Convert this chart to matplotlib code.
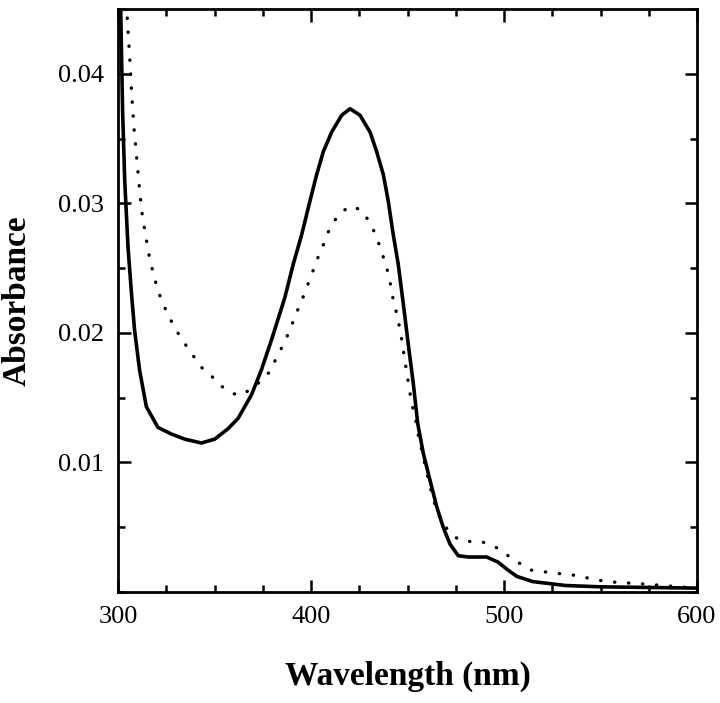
import matplotlib
matplotlib.use("Agg")
import matplotlib.pyplot as plt
from matplotlib.ticker import MultipleLocator

plt.rcParams['font.family'] = ['Liberation Serif', 'DejaVu Serif']

# Solid curve
wl_solid = [301.2, 302.4, 303.5, 305.2, 306.9, 308.6, 311.2, 314.7, 320.7, 327.6,
            334.6, 343.2, 350.1, 357.0, 362.2, 369.1, 374.2, 379.4, 386.4, 390.8,
            395.2, 399.5, 402.9, 406.4, 410.7, 415.9, 420.2, 425.4, 430.6, 434.0,
            437.5, 440.0, 442.6, 445.2, 447.0, 448.7, 450.4, 453.0, 455.3, 458.2,
            461.7, 465.1, 468.5, 472.0, 476.3, 481.5, 491.0, 497.0, 502.0, 506.7,
            515.0, 532.0, 550.0, 575.0, 600.0]
abs_solid = [0.0465, 0.037, 0.0317, 0.0266, 0.0232, 0.0202, 0.0171, 0.0143, 0.0127,
             0.0122, 0.0118, 0.0115, 0.0118, 0.0126, 0.0134, 0.0152, 0.0171, 0.0194,
             0.0227, 0.0253, 0.0276, 0.0302, 0.0322, 0.034, 0.0355, 0.0368, 0.0373,
             0.0368, 0.0355, 0.034, 0.0322, 0.0302, 0.0276, 0.0253, 0.0232, 0.0212,
             0.0191, 0.0161, 0.013, 0.0107, 0.0086, 0.0066, 0.005, 0.0037, 0.0028,
             0.0027, 0.0027, 0.0023, 0.0017, 0.0012, 0.0008, 0.0005, 0.0004,
             0.00035, 0.0003]

# Dotted curve
wl_dot = [304.8, 306.2, 307.1, 308.3, 309.7, 311.2, 312.4, 314.1, 316.1, 318.7,
          320.4, 322.1, 324.7, 327.3, 330.2, 334.0, 337.7, 341.5, 344.6, 348.3,
          351.8, 355.3, 360.1, 364.2, 369.9, 374.2, 378.6, 381.2, 384.3, 386.9,
          389.3, 391.5, 396.0, 400.3, 404.3, 406.7, 409.0, 412.4, 416.2, 421.4,
          426.6, 430.1, 432.8, 435.1, 437.0, 438.5, 440.3, 442.3, 445.0, 447.0,
          448.7, 450.4, 452.2, 453.9, 455.6, 458.2, 460.8, 463.4, 467.7, 472.0,
          476.8, 482.4, 487.6, 492.7, 497.6, 503.0, 513.5, 524.0, 536.0, 553.0,
          574.0, 591.0, 600.0]
abs_dot = [0.0443, 0.0409, 0.0384, 0.0358, 0.0335, 0.031, 0.0293, 0.0277, 0.026,
           0.0243, 0.0235, 0.0227, 0.0218, 0.021, 0.0202, 0.0193, 0.0185, 0.0177,
           0.0171, 0.0167, 0.0161, 0.0157, 0.0153, 0.0152, 0.0158, 0.0163, 0.017,
           0.0178, 0.0187, 0.0195, 0.0203, 0.0212, 0.0228, 0.0245, 0.0261, 0.0269,
           0.0278, 0.0287, 0.0294, 0.0298, 0.0294, 0.0286, 0.0278, 0.0269, 0.0261,
           0.0253, 0.0245, 0.0228, 0.0211, 0.0195, 0.0178, 0.0162, 0.0145, 0.0136,
           0.0121, 0.0104, 0.0087, 0.0071, 0.0054, 0.0046, 0.004, 0.0039, 0.0039,
           0.0037, 0.0033, 0.0027, 0.0017, 0.0015, 0.0013, 0.0008, 0.0006, 0.0004,
           0.0003]

x_ticks = [300, 400, 500, 600]
y_ticks = [0.01, 0.02, 0.03, 0.04]
y_tick_labels = ['0.01', '0.02', '0.03', '0.04']

fig = plt.figure(figsize=(7.2, 7.03), dpi=100)
ax = fig.add_axes([118/720, 1 - 592/703, (697-118)/720, (592-9)/703])

ax.plot(wl_solid, abs_solid, color='black', lw=2.6, solid_joinstyle='round')
ax.plot(wl_dot, abs_dot, color='black', lw=2.4, linestyle=(0, (0.1, 4.1)),
        dash_capstyle='round')

ax.set_xlim(300, 600)
ax.set_ylim(0, 0.045)
ax.set_xticks(x_ticks)
ax.set_xticklabels([str(t) for t in x_ticks])
ax.set_yticks(y_ticks)
ax.set_yticklabels(y_tick_labels)
ax.xaxis.set_minor_locator(MultipleLocator(25))
ax.yaxis.set_minor_locator(MultipleLocator(0.005))

for s in ax.spines.values():
    s.set_linewidth(2.0)

ax.tick_params(which='both', direction='in', top=True, right=True, width=1.8)
ax.tick_params(which='major', length=9, labelsize=19, pad=10)
ax.tick_params(which='minor', length=5)

ax.set_xlabel('Wavelength (nm)', fontsize=24, fontweight='bold', labelpad=24)
ax.set_ylabel('Absorbance', fontsize=24, fontweight='bold', labelpad=18)

fig.savefig('out.png', dpi=100)
